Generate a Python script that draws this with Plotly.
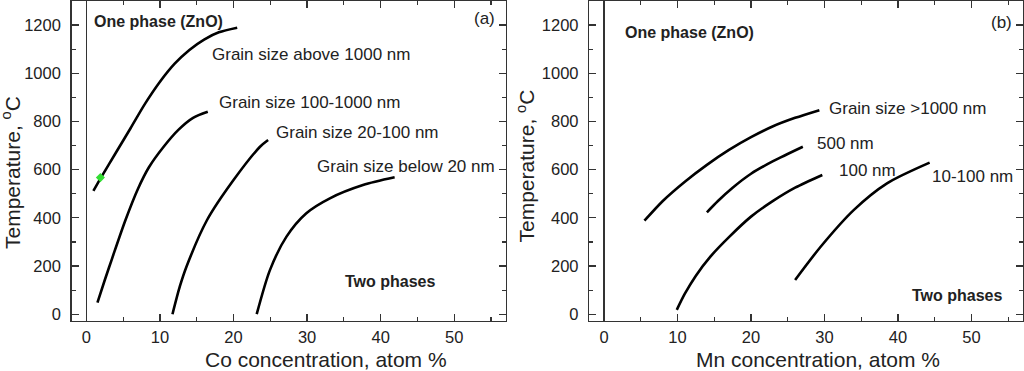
import plotly.graph_objects as go

# ---------------- data ----------------
# Panel (a): Co-doped ZnO
co_above1000_x = [0.95, 2.0, 4.0, 6.0, 8.0, 10.0, 12.0, 14.0, 16.0, 18.0, 20.5]
co_above1000_y = [512, 568, 670, 772, 875, 965, 1040, 1097, 1140, 1170, 1189]
co_100_1000_x = [1.5, 2.5, 3.5, 5.3, 7.0, 8.5, 10.5, 12.5, 14.5, 16.5]
co_100_1000_y = [48, 142, 232, 390, 520, 610, 695, 765, 815, 840]
co_20_100_x = [11.7, 12.7, 13.6, 16.4, 20.0, 23.6, 24.7]
co_20_100_y = [0, 115, 197, 391, 557, 695, 723]
co_below20_x = [23.15, 24.96, 27.2, 29.9, 33.1, 37.6, 41.9]
co_below20_y = [0, 184, 322, 419, 481, 536, 568]
co_marker_x = [1.9]
co_marker_y = [567]

# Panel (b): Mn-doped ZnO
mn_above1000_x = [5.5, 8.0, 11.0, 14.0, 17.0, 20.0, 23.0, 26.0, 29.3]
mn_above1000_y = [388, 470, 550, 620, 682, 735, 780, 815, 847]
mn_500_x = [14.0, 15.5, 17.5, 20.0, 23.0, 27.05]
mn_500_y = [423, 470, 525, 583, 635, 695]
mn_100_x = [9.9, 11.0, 12.5, 14.5, 17.0, 20.0, 23.0, 26.0, 29.7]
mn_100_y = [18, 85, 160, 240, 320, 405, 470, 525, 578]
mn_10_100_x = [26.0, 29.5, 34.0, 38.5, 44.3]
mn_10_100_y = [142, 281, 433, 543, 629]

x_ticks = [0, 10, 20, 30, 40, 50]
y_ticks = [0, 200, 400, 600, 800, 1000, 1200]

FONT = "Liberation Sans, Arial, sans-serif"
TXT = "#222222"
W, H = 1024, 371

fig = go.Figure()

def curve(x, y, xa, ya):
    fig.add_trace(go.Scatter(x=x, y=y, mode="lines", xaxis=xa, yaxis=ya,
                             line=dict(color="black", width=2.6, shape="spline", smoothing=0.8),
                             showlegend=False, hoverinfo="skip"))

curve(co_above1000_x, co_above1000_y, "x", "y")
curve(co_100_1000_x, co_100_1000_y, "x", "y")
curve(co_20_100_x, co_20_100_y, "x", "y")
curve(co_below20_x, co_below20_y, "x", "y")
fig.add_trace(go.Scatter(x=co_marker_x, y=co_marker_y, mode="markers", xaxis="x", yaxis="y",
                         marker=dict(color="#33dd33", size=7, symbol="diamond"),
                         showlegend=False, hoverinfo="skip"))

curve(mn_above1000_x, mn_above1000_y, "x2", "y2")
curve(mn_500_x, mn_500_y, "x2", "y2")
curve(mn_100_x, mn_100_y, "x2", "y2")
curve(mn_10_100_x, mn_10_100_y, "x2", "y2")

axis_common = dict(
    showgrid=False, showline=True, linecolor="#333333", linewidth=1.5, mirror="ticks",
    ticks="inside", ticklen=7, tickwidth=1.3, tickcolor="#333333",
    tickfont=dict(family=FONT, size=16.5, color=TXT), automargin=False,
)
xax = dict(axis_common, range=[-2, 57], tickvals=x_ticks, zeroline=True,
           zerolinecolor="#333333", zerolinewidth=1.3, ticklabelstandoff=1,
           minor=dict(dtick=5, tick0=0, ticks="inside", ticklen=4, tickwidth=1.2, tickcolor="#333333"))
yax = dict(axis_common, range=[-27, 1300], tickvals=y_ticks, zeroline=False, ticklabelstandoff=6,
           minor=dict(dtick=100, tick0=0, ticks="inside", ticklen=4, tickwidth=1.2, tickcolor="#333333"))

ydom = [1 - 320.7 / H, 1 - 1 / H]
fig.update_layout(
    width=W, height=H, template="none",
    margin=dict(l=0, r=0, t=0, b=0),
    paper_bgcolor="white", plot_bgcolor="white",
    xaxis=dict(xax, domain=[71.7 / W, 505.7 / W], anchor="y"),
    yaxis=dict(yax, domain=ydom, anchor="x"),
    xaxis2=dict(xax, domain=[589.3 / W, 1023.0 / W], anchor="y2"),
    yaxis2=dict(yax, domain=ydom, anchor="x2"),
)

def note(text, x, y, xref, yref, size=17, bold=False, anchor="left", angle=0):
    t = f"<b>{text}</b>" if bold else text
    fig.add_annotation(text=t, x=x, y=y, xref=xref, yref=yref, showarrow=False,
                       xanchor=anchor, yanchor="middle", textangle=angle,
                       font=dict(family=FONT, size=size, color=TXT), borderpad=0)

# Panel (a) texts
note("One phase (ZnO)", 0.87, 1216, "x", "y", size=16, bold=True)
note("Grain size above 1000 nm", 17.0, 1077, "x", "y")
note("Grain size 100-1000 nm", 17.9, 877, "x", "y")
note("Grain size 20-100 nm", 25.7, 753, "x", "y")
note("Grain size below 20 nm", 31.2, 612, "x", "y")
note("Two phases", 35.0, 134, "x", "y", size=16, bold=True)
note("(a)", 52.5, 1226, "x", "y")

# Panel (b) texts
note("One phase (ZnO)", 2.72, 1168, "x2", "y2", size=16, bold=True)
note("Grain size >1000 nm", 30.5, 853, "x2", "y2")
note("500 nm", 28.8, 707, "x2", "y2")
note("100 nm", 31.8, 595, "x2", "y2")
note("10-100 nm", 44.5, 570, "x2", "y2")
note("Two phases", 41.7, 76, "x2", "y2", size=16, bold=True)
note("(b)", 52.5, 1212, "x2", "y2")

# Axis titles
note("Co concentration, atom %", 326 / W, 1 - 359 / H, "paper", "paper", size=21, anchor="center")
note("Mn concentration, atom %", 818 / W, 1 - 359 / H, "paper", "paper", size=21, anchor="center")
note("Temperature, <sup>o</sup>C", 11.5 / W, 1 - 172.5 / H, "paper", "paper", size=21, anchor="center", angle=-90)
note("Temperature, <sup>o</sup>C", 525 / W, 1 - 166.5 / H, "paper", "paper", size=21, anchor="center", angle=-90)

fig.write_html("out.html", config={"displayModeBar": False, "staticPlot": True},
               post_script="document.body.style.margin='0px';document.body.style.overflow='hidden';")
